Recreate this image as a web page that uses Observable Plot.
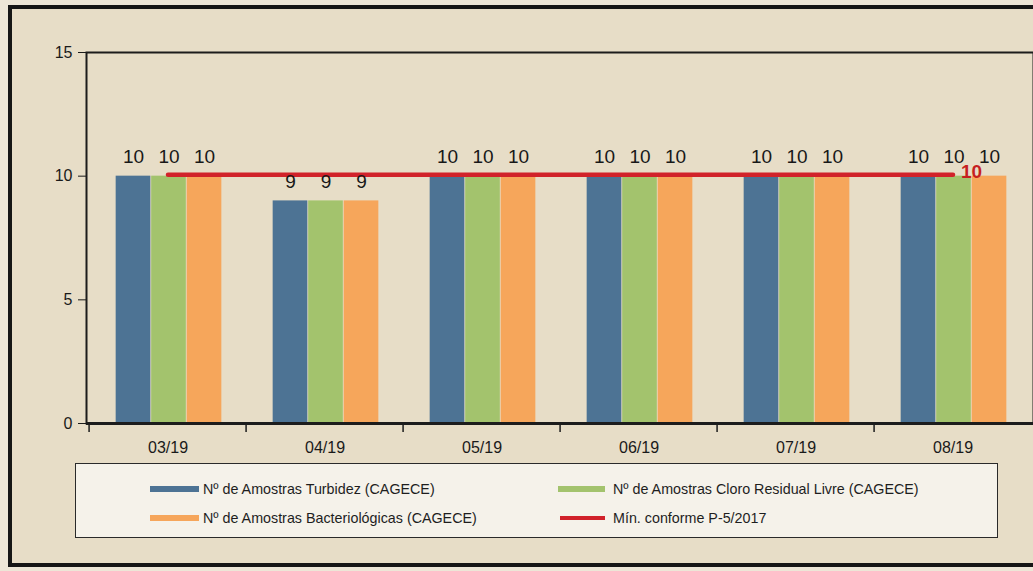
<!DOCTYPE html>
<html><head><meta charset="utf-8">
<script src="https://cdn.jsdelivr.net/npm/d3@7"></script>
<script src="https://cdn.jsdelivr.net/npm/@observablehq/plot@0.6"></script>
<style>
html,body{margin:0;padding:0;width:1033px;height:571px;overflow:hidden;background:#EDE6D7;font-family:"Liberation Sans",Arial,sans-serif;}
#frame{position:absolute;left:8px;top:5px;width:1060px;height:562px;border:4px solid #161616;background:#E7DDC7;box-sizing:border-box;}
#chart{position:absolute;left:0;top:0;}
#legend{position:absolute;left:75px;top:463px;width:923px;height:75px;border:1.5px solid #2a2a2a;background:#F5F2EA;box-sizing:border-box;}
.sw{position:absolute;height:6px;}
.lt{position:absolute;font-size:14.3px;color:#1e1e1e;line-height:16px;white-space:nowrap;}
</style>
</head><body>
<div id="frame"></div>
<div id="chart"></div>
<div id="legend"></div>
<div id="litems"></div>
<script>
const months = ["03/19","04/19","05/19","06/19","07/19","08/19"];
const turbidez = [10, 9, 10, 10, 10, 10];
const cloro = [10, 9, 10, 10, 10, 10];
const bacterio = [10, 9, 10, 10, 10, 10];
const minConforme = [10, 10, 10, 10, 10, 10];
const seriesKeys = ["turbidez", "cloro", "bacterio"];
const seriesNames = ["Nº de Amostras Turbidez (CAGECE)", "Nº de Amostras Cloro Residual Livre (CAGECE)", "Nº de Amostras Bacteriológicas (CAGECE)"];
const lineName = "Mín. conforme P-5/2017";
const yTicks = [0, 5, 10, 15];
const colors = {turbidez: "#4D7394", cloro: "#A3C36D", bacterio: "#F6A65B", min: "#D1222A"};

const rows = months.map((m, i) => ({month: m, turbidez: turbidez[i], cloro: cloro[i], bacterio: bacterio[i], min: minConforme[i]}));

const W = 1033, H = 460, ML = 86, MR = 0, MT = 52, MB = 37;
const bw = (W - ML - MR) / months.length;
const barW = 35.5;
const inset = (bw - barW) / 2;
const offs = [-barW, 0, barW];
const ink = "#1c1c1c";

const barMarks = [];
const textMarks = [];
seriesKeys.forEach((k, i) => {
  barMarks.push(Plot.barY(rows, {x: "month", y: k, fill: colors[k], insetLeft: inset, insetRight: inset, dx: offs[i] + 1}));
  textMarks.push(Plot.text(rows, {x: "month", y: k, text: d => String(d[k]), dx: offs[i] + 1, dy: -19, fontSize: 19, fill: "#181818"}));
});

const chart = Plot.plot({
  width: W, height: H,
  marginLeft: ML, marginRight: MR, marginTop: MT, marginBottom: MB,
  style: {background: "transparent", fontFamily: "'Liberation Sans', Arial, sans-serif", fontSize: "16px", color: "#1a1a1a", overflow: "visible"},
  x: {domain: months, padding: 0, label: null, tickSize: 0, tickPadding: 18},
  y: {domain: [0, 15], ticks: yTicks, label: null, tickSize: 8, tickPadding: 6},
  marks: [
    ...barMarks,
    Plot.frame({stroke: ink, strokeWidth: 2}),
    Plot.ruleX(months, {x: d => d, y1: 0, y2: -0.36, dx: -bw / 2, stroke: ink, strokeWidth: 1.5}),
    Plot.ruleY([0], {stroke: ink, strokeWidth: 3}),
    Plot.lineY(rows, {x: "month", y: "min", stroke: colors.min, strokeWidth: 4.5, dy: -1.5}),
    ...textMarks,
    Plot.text([rows[rows.length - 1]], {x: "month", y: "min", text: d => String(d.min), dx: 8, dy: -4, textAnchor: "start", fill: "#C61F1F", fontWeight: "bold", fontSize: 19})
  ]
});
document.getElementById("chart").appendChild(chart);

// legend
const items = [
  {name: seriesNames[0], color: colors.turbidez, sx: 150, sw: 49, tx: 203, y: 489, h: 6},
  {name: seriesNames[1], color: colors.cloro, sx: 558, sw: 47, tx: 613, y: 489, h: 6},
  {name: seriesNames[2], color: colors.bacterio, sx: 150, sw: 49, tx: 203, y: 518, h: 6},
  {name: lineName, color: colors.min, sx: 560, sw: 45, tx: 613, y: 518, h: 4}
];
const li = document.getElementById("litems");
items.forEach(it => {
  const s = document.createElement("div");
  s.className = "sw";
  s.style.left = it.sx + "px"; s.style.width = it.sw + "px";
  s.style.top = (it.y - it.h / 2) + "px"; s.style.height = it.h + "px";
  s.style.background = it.color;
  li.appendChild(s);
  const t = document.createElement("div");
  t.className = "lt";
  t.style.left = it.tx + "px"; t.style.top = (it.y - 8) + "px";
  t.textContent = it.name;
  li.appendChild(t);
});
</script>
</body></html>
